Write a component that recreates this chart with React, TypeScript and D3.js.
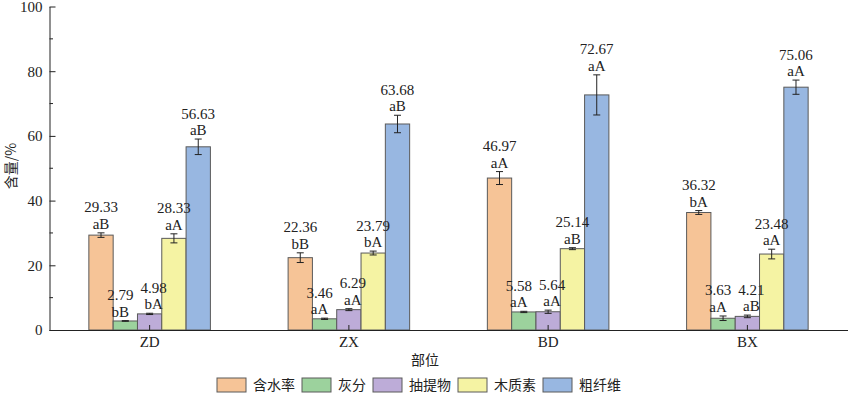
import React, { useRef, useEffect } from "react";
import * as d3 from "d3";

// 부위
const sites = ["ZD", "ZX", "BD", "BX"];
// 성분
const components = ["含水率", "灰分", "抽提物", "木质素", "粗纤维"];

const moisture = [29.33, 22.36, 46.97, 36.32];
const ash = [2.79, 3.46, 5.58, 3.63];
const extractives = [4.98, 6.29, 5.64, 4.21];
const lignin = [28.33, 23.79, 25.14, 23.48];
const crudeFiber = [56.63, 63.68, 72.67, 75.06];

const moistureErr = [0.7, 1.5, 2.0, 0.6];
const ashErr = [0.1, 0.2, 0.2, 0.7];
const extractivesErr = [0.2, 0.3, 0.5, 0.4];
const ligninErr = [1.4, 0.6, 0.3, 1.5];
const crudeFiberErr = [2.4, 2.7, 6.2, 2.2];

const moistureSig = ["aB", "bB", "aA", "bA"];
const ashSig = ["bB", "aA", "aA", "aA"];
const extractivesSig = ["bA", "aA", "aA", "aB"];
const ligninSig = ["aA", "bA", "aB", "aA"];
const crudeFiberSig = ["aB", "aB", "aA", "aA"];

const yTicks = [0, 20, 40, 60, 80, 100];

const colors = ["#F6C497", "#9CD29D", "#BDACD8", "#F5F3A3", "#98B7E1"];

const SERIF = "Liberation Serif";
const CJK = "Noto Sans CJK SC";

const App = () => {
  const svgRef = useRef<SVGSVGElement>(null);

  useEffect(() => {
    const svg = d3.select(svgRef.current);
    svg.selectAll("*").remove();

    const values = [moisture, ash, extractives, lignin, crudeFiber];
    const errs = [moistureErr, ashErr, extractivesErr, ligninErr, crudeFiberErr];
    const sigs = [moistureSig, ashSig, extractivesSig, ligninSig, crudeFiberSig];

    const x0 = d3.scaleBand().domain(sites).range([50, 847]).paddingInner(0.39).paddingOuter(0.195);
    const x1 = d3.scaleBand().domain(components).range([0, x0.bandwidth()]).padding(0);
    const y = d3.scaleLinear().domain([0, 100]).range([330, 6.5]);
    const bw = x1.bandwidth();

    const groups = svg
      .append("g")
      .selectAll("g")
      .data(sites)
      .enter()
      .append("g")
      .attr("transform", (d) => `translate(${x0(d)},0)`);

    // 막대 + 오차 막대
    components.forEach((c, ci) => {
      groups
        .append("rect")
        .attr("x", x1(c)!)
        .attr("y", (_, i) => y(values[ci][i]))
        .attr("width", bw)
        .attr("height", (_, i) => y(0) - y(values[ci][i]))
        .attr("fill", colors[ci])
        .attr("stroke", "#5a5a5a")
        .attr("stroke-width", 1);

      const cx = x1(c)! + bw / 2;
      const eb = groups.append("g").attr("stroke", "#222").attr("stroke-width", 1);
      eb.append("line")
        .attr("x1", cx)
        .attr("x2", cx)
        .attr("y1", (_, i) => y(values[ci][i] + errs[ci][i]))
        .attr("y2", (_, i) => y(values[ci][i] - errs[ci][i]));
      [1, -1].forEach((s) => {
        eb.append("line")
          .attr("x1", cx - 3.5)
          .attr("x2", cx + 3.5)
          .attr("y1", (_, i) => y(values[ci][i] + s * errs[ci][i]))
          .attr("y2", (_, i) => y(values[ci][i] + s * errs[ci][i]));
      });
    });

    // 라벨은 막대 위에 (작은 막대끼리 겹치지 않게 살짝 이동)
    components.forEach((c, ci) => {
      const cx = x1(c)! + bw / 2;
      const dx = ci === 1 ? -5 : ci === 2 ? 4 : 0;
      const lab = groups
        .append("text")
        .attr("font-family", SERIF)
        .attr("font-size", 15)
        .attr("fill", "#222")
        .attr("text-anchor", "middle");
      lab.append("tspan")
        .attr("x", cx + dx)
        .attr("y", (_, i) => y(values[ci][i] + errs[ci][i]) - 4 - 16.5)
        .text((_, i) => values[ci][i].toFixed(2));
      lab.append("tspan")
        .attr("x", cx + dx)
        .attr("y", (_, i) => y(values[ci][i] + errs[ci][i]) - 4)
        .text((_, i) => sigs[ci][i]);
    });

    // y축
    const yAxis = svg
      .append("g")
      .attr("transform", "translate(49.5,0)")
      .call(d3.axisLeft(y).tickValues(yTicks).tickSizeInner(-6).tickSizeOuter(0).tickPadding(7));
    yAxis.attr("font-family", SERIF).attr("font-size", 15);
    yAxis.select(".domain").attr("stroke", "#222");
    yAxis.selectAll(".tick line").attr("stroke", "#222");
    yAxis.selectAll("text").attr("fill", "#222");
    yAxis
      .selectAll(".minor")
      .data([10, 30, 50, 70, 90])
      .enter()
      .append("line")
      .attr("class", "minor")
      .attr("x1", 0)
      .attr("x2", 3.5)
      .attr("y1", (d) => y(d))
      .attr("y2", (d) => y(d))
      .attr("stroke", "#222");

    // x축
    const xAxis = svg
      .append("g")
      .attr("transform", `translate(0,${y(0)})`)
      .call(d3.axisBottom(x0).tickSizeInner(-5).tickSizeOuter(0).tickPadding(6));
    xAxis.attr("font-family", SERIF).attr("font-size", 15);
    xAxis.select(".domain").attr("stroke", "#222").attr("d", `M49.5,0.5H848`);
    xAxis.selectAll(".tick line").attr("stroke", "#222");
    xAxis.selectAll("text").attr("fill", "#222");

    // 축 제목
    svg.append("text")
      .attr("transform", "translate(12,166) rotate(-90)")
      .attr("text-anchor", "middle")
      .attr("dominant-baseline", "middle")
      .attr("font-family", CJK)
      .attr("font-size", 14)
      .attr("fill", "#222")
      .text("含量/%");
    svg.append("text")
      .attr("x", 425)
      .attr("y", 365)
      .attr("text-anchor", "middle")
      .attr("font-family", CJK)
      .attr("font-size", 14)
      .attr("fill", "#222")
      .text("部位");

    // 범례
    let lx = 217;
    components.forEach((c, ci) => {
      svg.append("rect")
        .attr("x", lx)
        .attr("y", 378)
        .attr("width", 29)
        .attr("height", 14)
        .attr("fill", colors[ci])
        .attr("stroke", "#5a5a5a");
      svg.append("text")
        .attr("x", lx + 36)
        .attr("y", 390)
        .attr("font-family", CJK)
        .attr("font-size", 14)
        .attr("fill", "#222")
        .text(c);
      lx += 36 + c.length * 14 + 7;
    });
  }, []);

  return (
    <svg
      ref={svgRef}
      width={850}
      height={394}
      style={{ position: "absolute", left: 0, top: 0, background: "#fff" }}
    ></svg>
  );
};

export default App;
